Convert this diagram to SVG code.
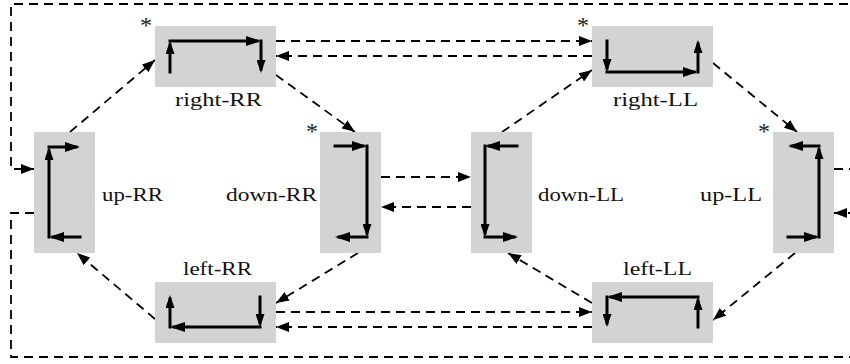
<svg xmlns="http://www.w3.org/2000/svg" width="850" height="364" viewBox="0 0 850 364">
<style>
.box{fill:#d3d3d3;stroke:none}
.g{fill:none;stroke:#000;stroke-width:3;stroke-linecap:square}
.gh{marker-end:url(#mh)}
.gv{marker-end:url(#mv)}
.c{fill:none;stroke:#000;stroke-width:1.8;stroke-dasharray:9 6;marker-end:url(#ah)}
.t{font-family:"Liberation Serif","Times New Roman",serif;font-size:19.5px;fill:#111}
.s{font-family:"Liberation Serif","Times New Roman",serif;font-size:24px;fill:#222;text-anchor:middle}
</style>
<defs>
<marker id="ah" viewBox="0 0 13 10" markerWidth="13" markerHeight="10" refX="13" refY="5" orient="auto" markerUnits="userSpaceOnUse"><path d="M0,0 L13,5 L0,10 z" fill="#000"/></marker>
<marker id="mh" viewBox="0 0 15 10" markerWidth="15" markerHeight="10" refX="11" refY="5" orient="auto" markerUnits="userSpaceOnUse"><path d="M0,0 L15,5 L0,10 z" fill="#000"/></marker>
<marker id="mv" viewBox="0 0 13 9" markerWidth="13" markerHeight="9" refX="9" refY="4.5" orient="auto" markerUnits="userSpaceOnUse"><path d="M0,0 L13,4.5 L0,9 z" fill="#000"/></marker>
</defs>
<g id="connectors">
<path class="c" d="M70,132 L155,60"/>
<path class="c" d="M276,75 L355,132"/>
<path class="c" d="M276,41 H592"/>
<path class="c" d="M592,56 H276"/>
<path class="c" d="M502,132 L592,70"/>
<path class="c" d="M713,63 L797,132"/>
<path class="c" d="M381,177 H471"/>
<path class="c" d="M471,207 H381"/>
<path class="c" d="M358,253 L276,303"/>
<path class="c" d="M276,312 H592"/>
<path class="c" d="M592,327 H276"/>
<path class="c" d="M155,319 L77,253"/>
<path class="c" d="M592,303 L508,253"/>
<path class="c" d="M795,253 L713,320"/>
<path class="c" d="M834,169 H856 V4 H11 V169 H34"/>
<path class="c" d="M34,213 H11 V357 H856 V213 H834"/>
</g>
<g id="right-RR">
<rect class="box" x="155" y="26" width="121" height="61"/>
<path class="g gv" d="M170,72 V45"/>
<path class="g gh" d="M170,41 H257"/>
<path class="g gv" d="M261,41 V69"/>
<text class="t" x="175" y="106" textLength="87" lengthAdjust="spacingAndGlyphs">right-RR</text>
<text class="s" x="146" y="33">*</text>
</g>
<g id="right-LL">
<rect class="box" x="592" y="26" width="121" height="61"/>
<path class="g gv" d="M607,41 V68"/>
<path class="g gh" d="M607,72 H694"/>
<path class="g gv" d="M698,72 V44"/>
<text class="t" x="613" y="106" textLength="85" lengthAdjust="spacingAndGlyphs">right-LL</text>
<text class="s" x="583" y="33">*</text>
</g>
<g id="up-RR">
<rect class="box" x="34" y="132" width="61" height="121"/>
<path class="g gh" d="M80,237 H53"/>
<path class="g gv" d="M49,237 V151"/>
<path class="g gh" d="M49,147 H76"/>
<text class="t" x="102" y="201" textLength="61" lengthAdjust="spacingAndGlyphs">up-RR</text>
</g>
<g id="down-RR">
<rect class="box" x="320" y="132" width="61" height="121"/>
<path class="g gh" d="M335,146 H363"/>
<path class="g gv" d="M367,146 V233"/>
<path class="g gh" d="M367,237 H339"/>
<text class="t" x="226" y="201" textLength="91" lengthAdjust="spacingAndGlyphs">down-RR</text>
<text class="s" x="312" y="139">*</text>
</g>
<g id="down-LL">
<rect class="box" x="471" y="132" width="61" height="121"/>
<path class="g gh" d="M517,146 H489"/>
<path class="g gv" d="M485,146 V233"/>
<path class="g gh" d="M485,237 H514"/>
<text class="t" x="538" y="201" textLength="86" lengthAdjust="spacingAndGlyphs">down-LL</text>
</g>
<g id="up-LL">
<rect class="box" x="773" y="132" width="61" height="121"/>
<path class="g gh" d="M788,237 H815"/>
<path class="g gv" d="M819,237 V150"/>
<path class="g gh" d="M819,146 H792"/>
<text class="t" x="700" y="201" textLength="62" lengthAdjust="spacingAndGlyphs">up-LL</text>
<text class="s" x="764" y="139">*</text>
</g>
<g id="left-RR">
<rect class="box" x="155" y="282" width="121" height="61"/>
<path class="g gv" d="M260,297 V323"/>
<path class="g gh" d="M260,327 H174"/>
<path class="g gv" d="M170,327 V299"/>
<text class="t" x="183" y="275" textLength="69" lengthAdjust="spacingAndGlyphs">left-RR</text>
</g>
<g id="left-LL">
<rect class="box" x="592" y="282" width="121" height="61"/>
<path class="g gv" d="M698,327 V301"/>
<path class="g gh" d="M698,297 H611"/>
<path class="g gv" d="M607,297 V323"/>
<text class="t" x="623" y="275" textLength="69" lengthAdjust="spacingAndGlyphs">left-LL</text>
</g>
</svg>
